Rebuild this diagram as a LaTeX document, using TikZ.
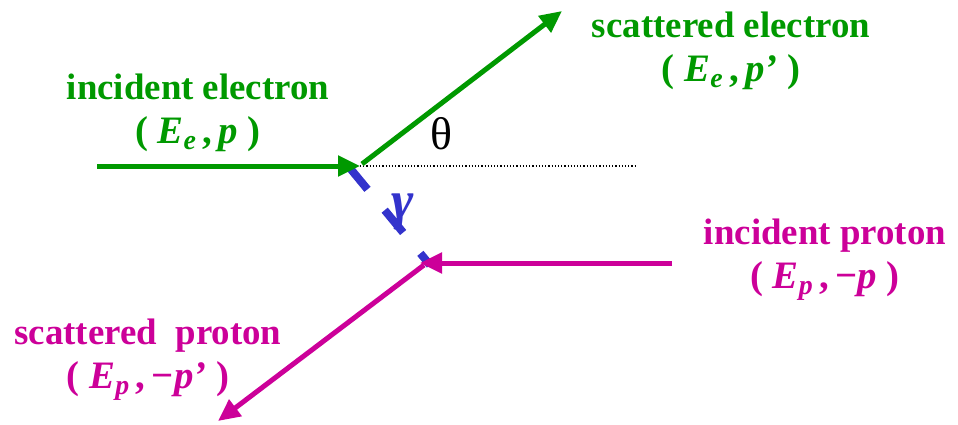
\documentclass[tikz,border=0pt]{standalone}
\usepackage{fontspec}
\setmainfont{Liberation Serif}
\usetikzlibrary{arrows.meta}
\definecolor{egreen}{RGB}{0,153,0}
\definecolor{pmag}{RGB}{204,0,153}
\definecolor{gblue}{RGB}{51,51,204}
\newcommand{\subx}[1]{\raisebox{-0.35ex}{\fontsize{28}{28}\selectfont\textit{#1}}}
\newcommand{\pline}{\fontsize{39}{44}\selectfont}
\begin{document}
\begin{tikzpicture}[x=1bp,y=-1bp,
  lbl/.style={font=\fontsize{37}{44}\selectfont\bfseries, align=center, inner sep=0pt},
  ptrack/.style={line width=5bp, -{Triangle[length=22bp,width=20bp]}},
  photon/.style={gblue, line width=8bp, dash pattern=on 29bp off 27bp}]
\useasboundingbox (0,0) rectangle (958,424);
% coordinates
\coordinate (ein) at (97,166);
\coordinate (ev) at (360,166);
\coordinate (eout) at (362,164);
\coordinate (etip) at (562,11);
\coordinate (dotend) at (635,166);
\coordinate (gs) at (349,167);
\coordinate (ge) at (430,265);
\coordinate (pin) at (672,263);
\coordinate (pv) at (420,263);
\coordinate (pout) at (424,265);
\coordinate (ptip) at (218,421);
% lines
\draw[black, line width=1.2bp, dotted] (ev) -- (dotend);
\draw[photon] (gs) -- (ge);
\draw[egreen, ptrack] (ein) -- (ev);
\draw[egreen, ptrack] (eout) -- (etip);
\draw[pmag, ptrack] (pin) -- (pv);
\draw[pmag, ptrack] (pout) -- (ptip);
% labels
\node[lbl, text=egreen] (iel) at (198,113) {incident electron\\{\pline( \textit{E}\subx{e}\,,\,\textit{p} )}};
\node[lbl, text=egreen] (sel) at (731,51) {scattered electron\\{\pline( \textit{E}\subx{e}\,,\,\textit{p’} )}};
\node[lbl, text=pmag] (ipl) at (825,260) {incident proton\\{\pline( \textit{E}\subx{p}\,,\,−\textit{p} )}};
\node[lbl, text=pmag] (spl) at (148,360) {scattered\ \ proton\\{\pline( \textit{E}\subx{p}\,,\,−\textit{p’} )}};
\node[font=\fontsize{46}{50}\selectfont, inner sep=0pt] (th) at (441,134) {θ};
\node[font=\fontsize{54}{60}\selectfont\bfseries\itshape, text=gblue, inner sep=0pt] (gam) at (403,212) {γ};
\end{tikzpicture}
\end{document}
